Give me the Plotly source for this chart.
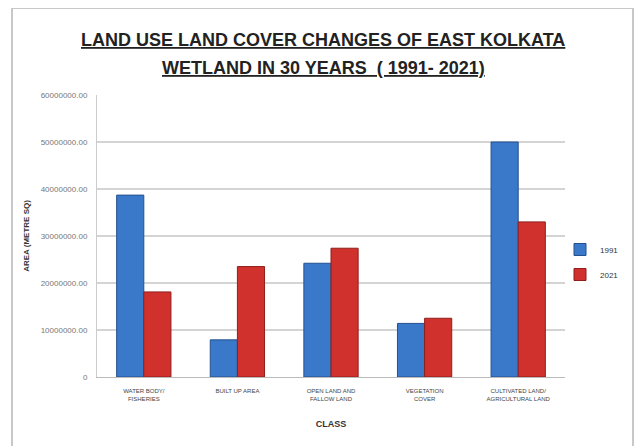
import plotly.graph_objects as go

categories = ["WATER BODY/<br>FISHERIES", "BUILT UP AREA", "OPEN LAND AND<br>FALLOW LAND",
              "VEGETATION<br>COVER", "CULTIVATED LAND/<br>AGRICULTURAL LAND"]
area_1991 = [38700000, 7900000, 24200000, 11400000, 50000000]
area_2021 = [18100000, 23500000, 27400000, 12500000, 33000000]
tick_vals = [0, 10000000, 20000000, 30000000, 40000000, 50000000, 60000000]
tick_text = ["0", "10000000.00", "20000000.00", "30000000.00", "40000000.00", "50000000.00", "60000000.00"]
title_lines = ["LAND USE LAND COVER CHANGES OF EAST KOLKATA", "WETLAND IN 30 YEARS  ( 1991- 2021)"]

# page body has an 8px margin: compensate so the picture lands where the reference has it
OFF = 8
W, H = 642, 446
L, T = 97 - OFF, 95 - OFF
pw, ph = 468, 282
R, B = W - L - pw, H - T - ph

def px(x):
    return (x - OFF - L) / pw

def py(y):
    return (T + ph - (y - OFF)) / ph

fig = go.Figure()
fig.add_trace(go.Bar(x=categories, y=area_1991, name="1991", legendgroup="a",
                     marker=dict(color="#3a78c9", line=dict(color="#24508f", width=1))))
fig.add_trace(go.Bar(x=categories, y=area_2021, name="2021", legendgroup="b",
                     marker=dict(color="#d0312d", line=dict(color="#8e1f1c", width=1))))

fig.update_layout(
    width=W, height=H,
    margin=dict(l=L, r=R, t=T, b=B),
    paper_bgcolor="white", plot_bgcolor="white",
    barmode="group", bargap=0.42, bargroupgap=0,
    font=dict(family="Liberation Sans, Arial", color="#444"),
    legend=dict(x=px(560), y=py(262), xanchor="left", yanchor="middle",
                font=dict(size=8, color="#333"), bgcolor="rgba(0,0,0,0)",
                tracegroupgap=6, itemwidth=30),
    showlegend=True,
    xaxis=dict(title=dict(text="<b>CLASS</b>", font=dict(size=9, color="#333"), standoff=19),
               tickfont=dict(size=6, color="#444"), showline=True, linecolor="#bbb",
               ticks="", showgrid=False, ticklabelstandoff=8),
    yaxis=dict(title=dict(text="<b>AREA (METRE SQ)</b>", font=dict(size=8, color="#333"), standoff=9),
               range=[0, 60000000], tickvals=tick_vals, ticktext=tick_text,
               tickfont=dict(size=8, color="#777"), showgrid=True, gridcolor="#d4d4d4",
               gridwidth=2, showline=True, linecolor="#ccc", ticks="", zeroline=False,
               ticklabelstandoff=7),
)

for i, (line, yc) in enumerate(zip(title_lines, [40, 68])):
    fig.add_annotation(text="<b><u>" + line + "</u></b>", xref="paper", yref="paper",
                       x=px(323), y=py(yc), xanchor="center", yanchor="middle",
                       showarrow=False, font=dict(size=18, color="#222", family="Liberation Sans, Arial"))

# outer chart frame
frame = dict(type="line", xref="paper", yref="paper", line=dict(color="#c8c8c8", width=2))
fig.add_shape(**frame, x0=px(12), x1=px(12), y0=py(8), y1=py(460))
fig.add_shape(**frame, x0=px(12), x1=px(633), y0=py(8), y1=py(8))
fig.add_shape(**frame, x0=px(633), x1=px(633), y0=py(8), y1=py(460))

fig.write_html("out.html")
